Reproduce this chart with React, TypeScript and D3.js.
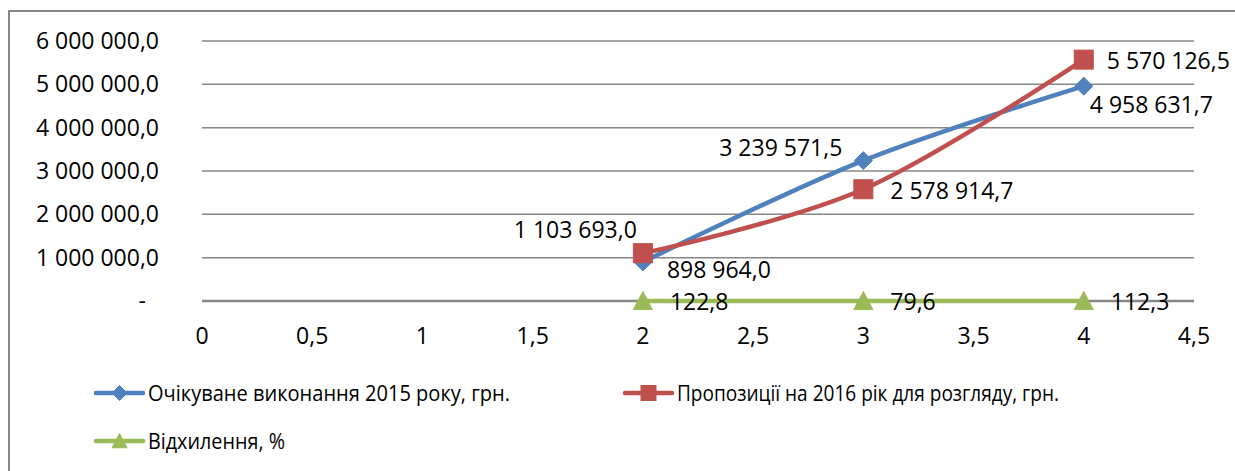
import React from "react";
import * as d3 from "d3";

const xValues = [2, 3, 4];
const seriesNames = [
  "Очікуване виконання 2015 року, грн.",
  "Пропозиції на 2016 рік для розгляду, грн.",
  "Відхилення, %",
];
const expected2015 = [898964.0, 3239571.5, 4958631.7];
const proposals2016 = [1103693.0, 2578914.7, 5570126.5];
const deviation = [122.8, 79.6, 112.3];
const yTicks = [0, 1000000, 2000000, 3000000, 4000000, 5000000, 6000000];
const xTicks = [0, 0.5, 1, 1.5, 2, 2.5, 3, 3.5, 4, 4.5];

const colors = ["#4F81BD", "#C0504D", "#9BBB59"];
const markers = ["diamond", "square", "triangle"];
// label offsets [dx, dy, anchor] per series per point
const labelPos: [number, number, string][][] = [
  [[24, 8, "start"], [-21, -13, "end"], [6, 19, "start"]],
  [[-6, -23, "end"], [27, 2, "start"], [23, 1, "start"]],
  [[27, 1, "start"], [27, 1, "start"], [27, 1, "start"]],
];
// legend layout: [lineX, centerY, textWidth]
const legendLayout: [number, number, number][] = [
  [96, 393, 362],
  [625, 393, 382],
  [96, 441, 137],
];

const FONT = "'Open Sans', 'Noto Sans', sans-serif";
const FS = 23;
const LFS = 22;

function fmtNum(v: number, decimals: number) {
  const s = v.toFixed(decimals);
  const [i, d] = s.split(".");
  const ig = i.replace(/\B(?=(\d{3})+(?!\d))/g, " ");
  return d !== undefined ? ig + "," + d : ig;
}

function Marker({ type, x, y, color, size }: { type: string; x: number; y: number; color: string; size: number }) {
  if (type === "diamond") {
    const h = size / 2;
    return <path d={`M${x},${y - h}L${x + h},${y}L${x},${y + h}L${x - h},${y}Z`} fill={color} stroke={color} strokeWidth={1} />;
  }
  if (type === "square") {
    const h = size / 2;
    return <rect x={x - h} y={y - h} width={size} height={size} fill={color} stroke={color} strokeWidth={1} />;
  }
  const h = size / 2;
  return <path d={`M${x},${y - h}L${x + h},${y + h * 0.9}L${x - h},${y + h * 0.9}Z`} fill={color} stroke={color} strokeWidth={1} />;
}

export default function App() {
  const W = 1235;
  const H = 471;
  const x = d3.scaleLinear().domain([0, 4.5]).range([202, 1194]);
  const y = d3.scaleLinear().domain([0, 6000000]).range([301, 41]);
  const line = d3
    .line<[number, number]>()
    .x((d) => x(d[0]))
    .y((d) => y(d[1]))
    .curve(d3.curveCatmullRom.alpha(0));

  const series = [expected2015, proposals2016, deviation];
  const decimals = 1;

  return (
    <svg width={W} height={H} style={{ position: "absolute", left: 0, top: 0, background: "#fff" }} fontFamily={FONT}>
      <rect x={0} y={0} width={W} height={H} fill="#fff" />
      <path d={`M9,${H + 2}L9,11L${W + 5},11`} fill="none" stroke="#868686" strokeWidth={2} />
      {yTicks.map((t) => (
        <g key={t}>
          <line x1={202} x2={1194} y1={y(t)} y2={y(t)} stroke="#868686" strokeWidth={t === 0 ? 2.5 : 1.5} />
          <text
            x={t === 0 ? 146 : 159}
            y={y(t)}
            dy="0.35em"
            textAnchor="end"
            fontSize={FS}
            fill="#000"
          >
            {t === 0 ? "-" : fmtNum(t, 1)}
          </text>
        </g>
      ))}
      {xTicks.map((t) => (
        <text key={t} x={x(t)} y={344} textAnchor="middle" fontSize={FS} fill="#000">
          {String(t).replace(".", ",")}
        </text>
      ))}
      {series.map((vals, si) => {
        const pts: [number, number][] = xValues.map((xv, i) => [xv, vals[i]]);
        return (
          <g key={si}>
            <path d={line(pts) || ""} fill="none" stroke={colors[si]} strokeWidth={4.5} strokeLinecap="round" />
            {pts.map((p, i) => (
              <Marker key={i} type={markers[si]} x={x(p[0])} y={y(p[1])} color={colors[si]} size={si === 0 ? 18 : 19} />
            ))}
          </g>
        );
      })}
      {series.map((vals, si) =>
        xValues.map((xv, i) => {
          const [dx, dy, anchor] = labelPos[si][i];
          return (
            <text
              key={`${si}-${i}`}
              x={x(xv) + dx}
              y={y(vals[i]) + dy}
              dy="0.35em"
              textAnchor={anchor as any}
              fontSize={FS}
              fill="#000"
            >
              {fmtNum(vals[i], decimals)}
            </text>
          );
        })
      )}
      {seriesNames.map((name, si) => {
        const [lx, ly, tw] = legendLayout[si];
        return (
          <g key={name}>
            <line x1={lx} x2={lx + 47} y1={ly} y2={ly} stroke={colors[si]} strokeWidth={4.5} strokeLinecap="round" />
            <Marker type={markers[si]} x={lx + 23.5} y={ly} color={colors[si]} size={15} />
            <text
              x={lx + 52}
              y={ly}
              dy="0.35em"
              fontSize={LFS}
              fill="#000"
              textLength={tw}
              lengthAdjust="spacingAndGlyphs"
            >
              {name}
            </text>
          </g>
        );
      })}
    </svg>
  );
}
